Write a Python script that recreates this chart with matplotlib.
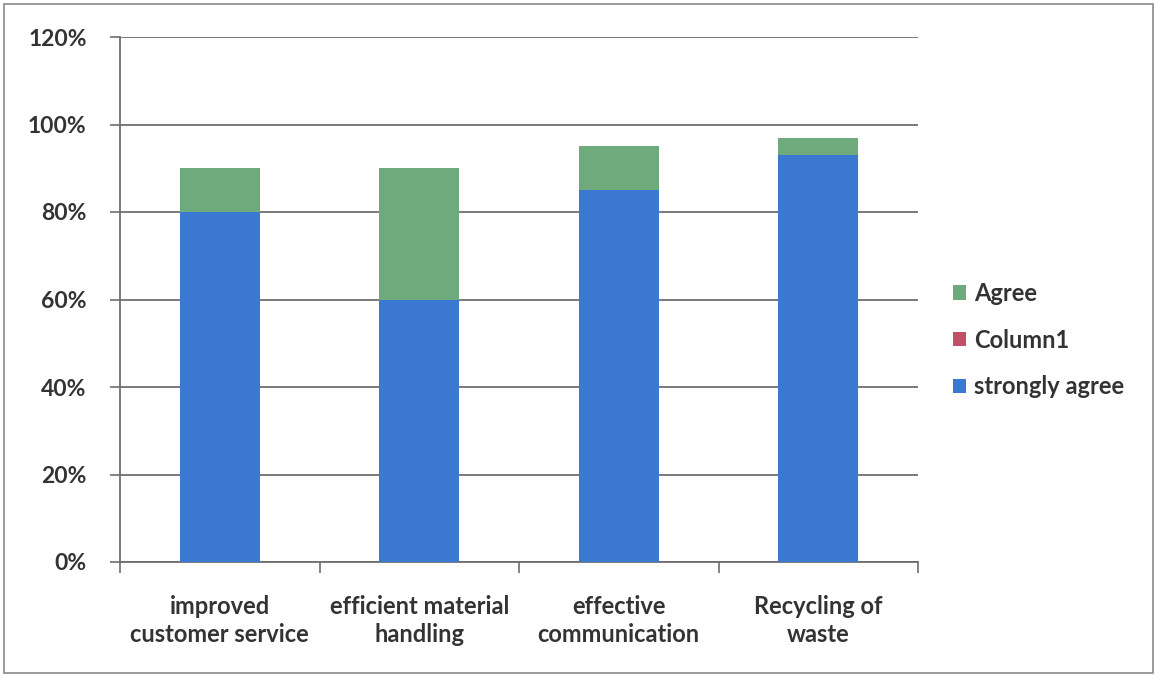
import matplotlib.pyplot as plt
import numpy as np
from matplotlib.patches import Patch, Rectangle

plt.rcParams['font.family'] = ['Lato', 'DejaVu Sans']

# Daten
categories = ["improved\ncustomer service", "efficient material\nhandling",
              "effective\ncommunication", "Recycling of\nwaste"]
strongly_agree = [80, 60, 85, 93]
column1 = [0, 0, 0, 0]
agree = [10, 30, 10, 4]

COLORS = {
    "strongly": "#3B78D2",
    "column1": "#C0506A",
    "agree": "#6FAA7C",
}

fig = plt.figure(figsize=(11.57, 6.77), dpi=100)
ax = fig.add_axes([120 / 1157, 1 - 562 / 677, (918 - 120) / 1157, (562 - 37) / 677])

x = np.arange(len(categories))
width = 0.4
sa = np.array(strongly_agree)
c1 = np.array(column1)
ag = np.array(agree)

ax.bar(x, sa, width, color=COLORS["strongly"], zorder=3)
ax.bar(x, c1, width, bottom=sa, color=COLORS["column1"], zorder=3)
ax.bar(x, ag, width, bottom=sa + c1, color=COLORS["agree"], zorder=3)

ax.set_xlim(-0.5, len(categories) - 0.5)
ax.set_ylim(0, 120)
ax.set_yticks(np.arange(0, 121, 20))
ax.set_yticklabels([f"{v}%" for v in range(0, 121, 20)], fontsize=16.5, fontweight='bold',
                   color='#333333')
ax.yaxis.grid(True, color='#6e6e6e', linewidth=1.3, zorder=0)

# Kategorie-Ticks an den Grenzen
ax.set_xticks(np.arange(-0.5, len(categories)), minor=False)
ax.set_xticklabels([])
ax.set_xticks(x, minor=True)
ax.set_xticklabels(categories, minor=True, fontsize=17, fontweight='bold', color='#333333',
                   linespacing=1.25)
ax.tick_params(axis='x', which='minor', length=0, pad=24)
ax.tick_params(axis='x', which='major', length=8, width=1.2, color='#6e6e6e')
ax.tick_params(axis='y', length=7, width=1.2, color='#6e6e6e', pad=17)

for s in ['top', 'right']:
    ax.spines[s].set_visible(False)
for s in ['left', 'bottom']:
    ax.spines[s].set_color('#6e6e6e')
    ax.spines[s].set_linewidth(1.3)

legend_elements = [
    Patch(facecolor=COLORS["agree"], label='Agree'),
    Patch(facecolor=COLORS["column1"], label='Column1'),
    Patch(facecolor=COLORS["strongly"], label='strongly agree'),
]
fig.legend(handles=legend_elements, loc='center left', bbox_to_anchor=(932 / 1157, 1 - 340 / 677),
           frameon=False, prop={'family': ['Lato', 'DejaVu Sans'], 'weight': 'bold', 'size': 17},
           handlelength=0.55, handleheight=0.55, handletextpad=0.35, labelspacing=1.0,
           labelcolor='#333333')

# Rahmen um das Diagramm
fig.patches.append(Rectangle((4 / 1157, 4 / 677), 1 - 8 / 1157, 1 - 8 / 677,
                             transform=fig.transFigure, fill=False,
                             edgecolor='#8a8a8a', linewidth=1.2))

fig.savefig('out.png', dpi=100)
